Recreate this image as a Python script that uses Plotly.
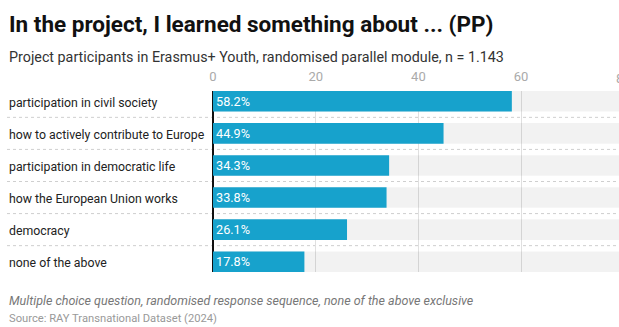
import plotly.graph_objects as go

# Survey data
categories = [
    "participation in civil society",
    "how to actively contribute to Europe",
    "participation in democratic life",
    "how the European Union works",
    "democracy",
    "none of the above",
]
shares = [58.2, 44.9, 34.3, 33.8, 26.1, 17.8]
track_max = 100
tick_values = [0, 20, 40, 60, 80]

title = "In the project, I learned something about ... (PP)"
subtitle = "Project participants in Erasmus+ Youth, randomised parallel module, n = 1.143"
note = "Multiple choice question, randomised response sequence, none of the above exclusive"
source = "Source: RAY Transnational Dataset (2024)"

W, H = 619, 327
ML, MR, MT, MB = 213, 0, 91, 55
PLOT_W = W - ML - MR
PLOT_H = H - MT - MB
X_MAX = 79.07
BARGAP = 0.357
FONT = "Roboto, sans-serif"
BLUE = "#17a2cc"

n = len(categories)
idx = list(range(n))

fig = go.Figure()

# light background tracks behind each bar
fig.add_trace(go.Bar(
    y=idx, x=[track_max] * n, orientation="h",
    marker=dict(color="rgba(0,0,0,0.05)", line=dict(width=0)),
    hoverinfo="skip", showlegend=False,
))

# value bars
fig.add_trace(go.Bar(
    y=idx, x=shares, orientation="h",
    marker=dict(color=BLUE, line=dict(width=0)),
    text=[f"{v:.1f}%" for v in shares],
    textposition="inside", insidetextanchor="start",
    textfont=dict(family=FONT, size=13, color="white"),
    cliponaxis=False, showlegend=False,
))

half = BARGAP / 2
fig.update_layout(
    width=W, height=H,
    margin=dict(l=ML, r=MR, t=MT, b=MB, pad=0),
    paper_bgcolor="white", plot_bgcolor="white",
    barmode="overlay", bargap=BARGAP,
    font=dict(family=FONT, color="#222"),
    xaxis=dict(
        side="top", range=[0, X_MAX], tickvals=tick_values,
        showgrid=True, gridcolor="#e0e0e0", gridwidth=1,
        zeroline=True, zerolinecolor="#111", zerolinewidth=1.5,
        showline=False, ticks="",
        tickfont=dict(family=FONT, size=13, color="#aaa"),
        ticklabelstandoff=6, fixedrange=True,
    ),
    yaxis=dict(
        range=[n - 0.5 - half, -0.5 + half],
        showticklabels=False, showgrid=False, zeroline=False,
        showline=False, ticks="", fixedrange=True,
    ),
)

# dotted separators between rows
for i in range(n - 1):
    fig.add_shape(
        type="line", xref="paper", yref="y",
        x0=-(ML - 7) / PLOT_W, x1=1, y0=i + 0.5, y1=i + 0.5,
        line=dict(color="#cfcfcf", width=1, dash="dot"), layer="below",
    )

# left-aligned category labels
for i, c in enumerate(categories):
    fig.add_annotation(
        xref="paper", yref="y", x=-(ML - 7) / PLOT_W, y=i, yshift=-1.5,
        text=c, showarrow=False, xanchor="left", yanchor="middle",
        font=dict(family=FONT, size=12.3, color="#222"),
    )

# last tick label sits just past the visible plot edge
fig.add_annotation(
    xref="paper", yref="paper", x=80 / X_MAX, y=1 + 13 / PLOT_H,
    text="80", showarrow=False, xanchor="center", yanchor="middle",
    font=dict(family=FONT, size=13, color="#aaa"),
)

def paper_y(px):
    return (H - MB - px) / PLOT_H

def paper_x(px):
    return (px - ML) / PLOT_W

fig.add_annotation(
    xref="paper", yref="paper", x=paper_x(7), y=paper_y(24),
    text=f"<b>{title}</b>", showarrow=False, xanchor="left", yanchor="middle",
    font=dict(family=FONT, size=22.5, color="#111"),
)
fig.add_annotation(
    xref="paper", yref="paper", x=paper_x(7), y=paper_y(56.5),
    text=subtitle, showarrow=False, xanchor="left", yanchor="middle",
    font=dict(family=FONT, size=14.3, color="#333"),
)
fig.add_annotation(
    xref="paper", yref="paper", x=paper_x(7), y=paper_y(300),
    text=f"<i>{note}</i>", showarrow=False, xanchor="left", yanchor="middle",
    font=dict(family=FONT, size=12.5, color="#777"),
)
fig.add_annotation(
    xref="paper", yref="paper", x=paper_x(7), y=paper_y(318),
    text=source, showarrow=False, xanchor="left", yanchor="middle",
    font=dict(family=FONT, size=11.2, color="#999"),
)

fig.write_html("out.html", config={"displayModeBar": False})
